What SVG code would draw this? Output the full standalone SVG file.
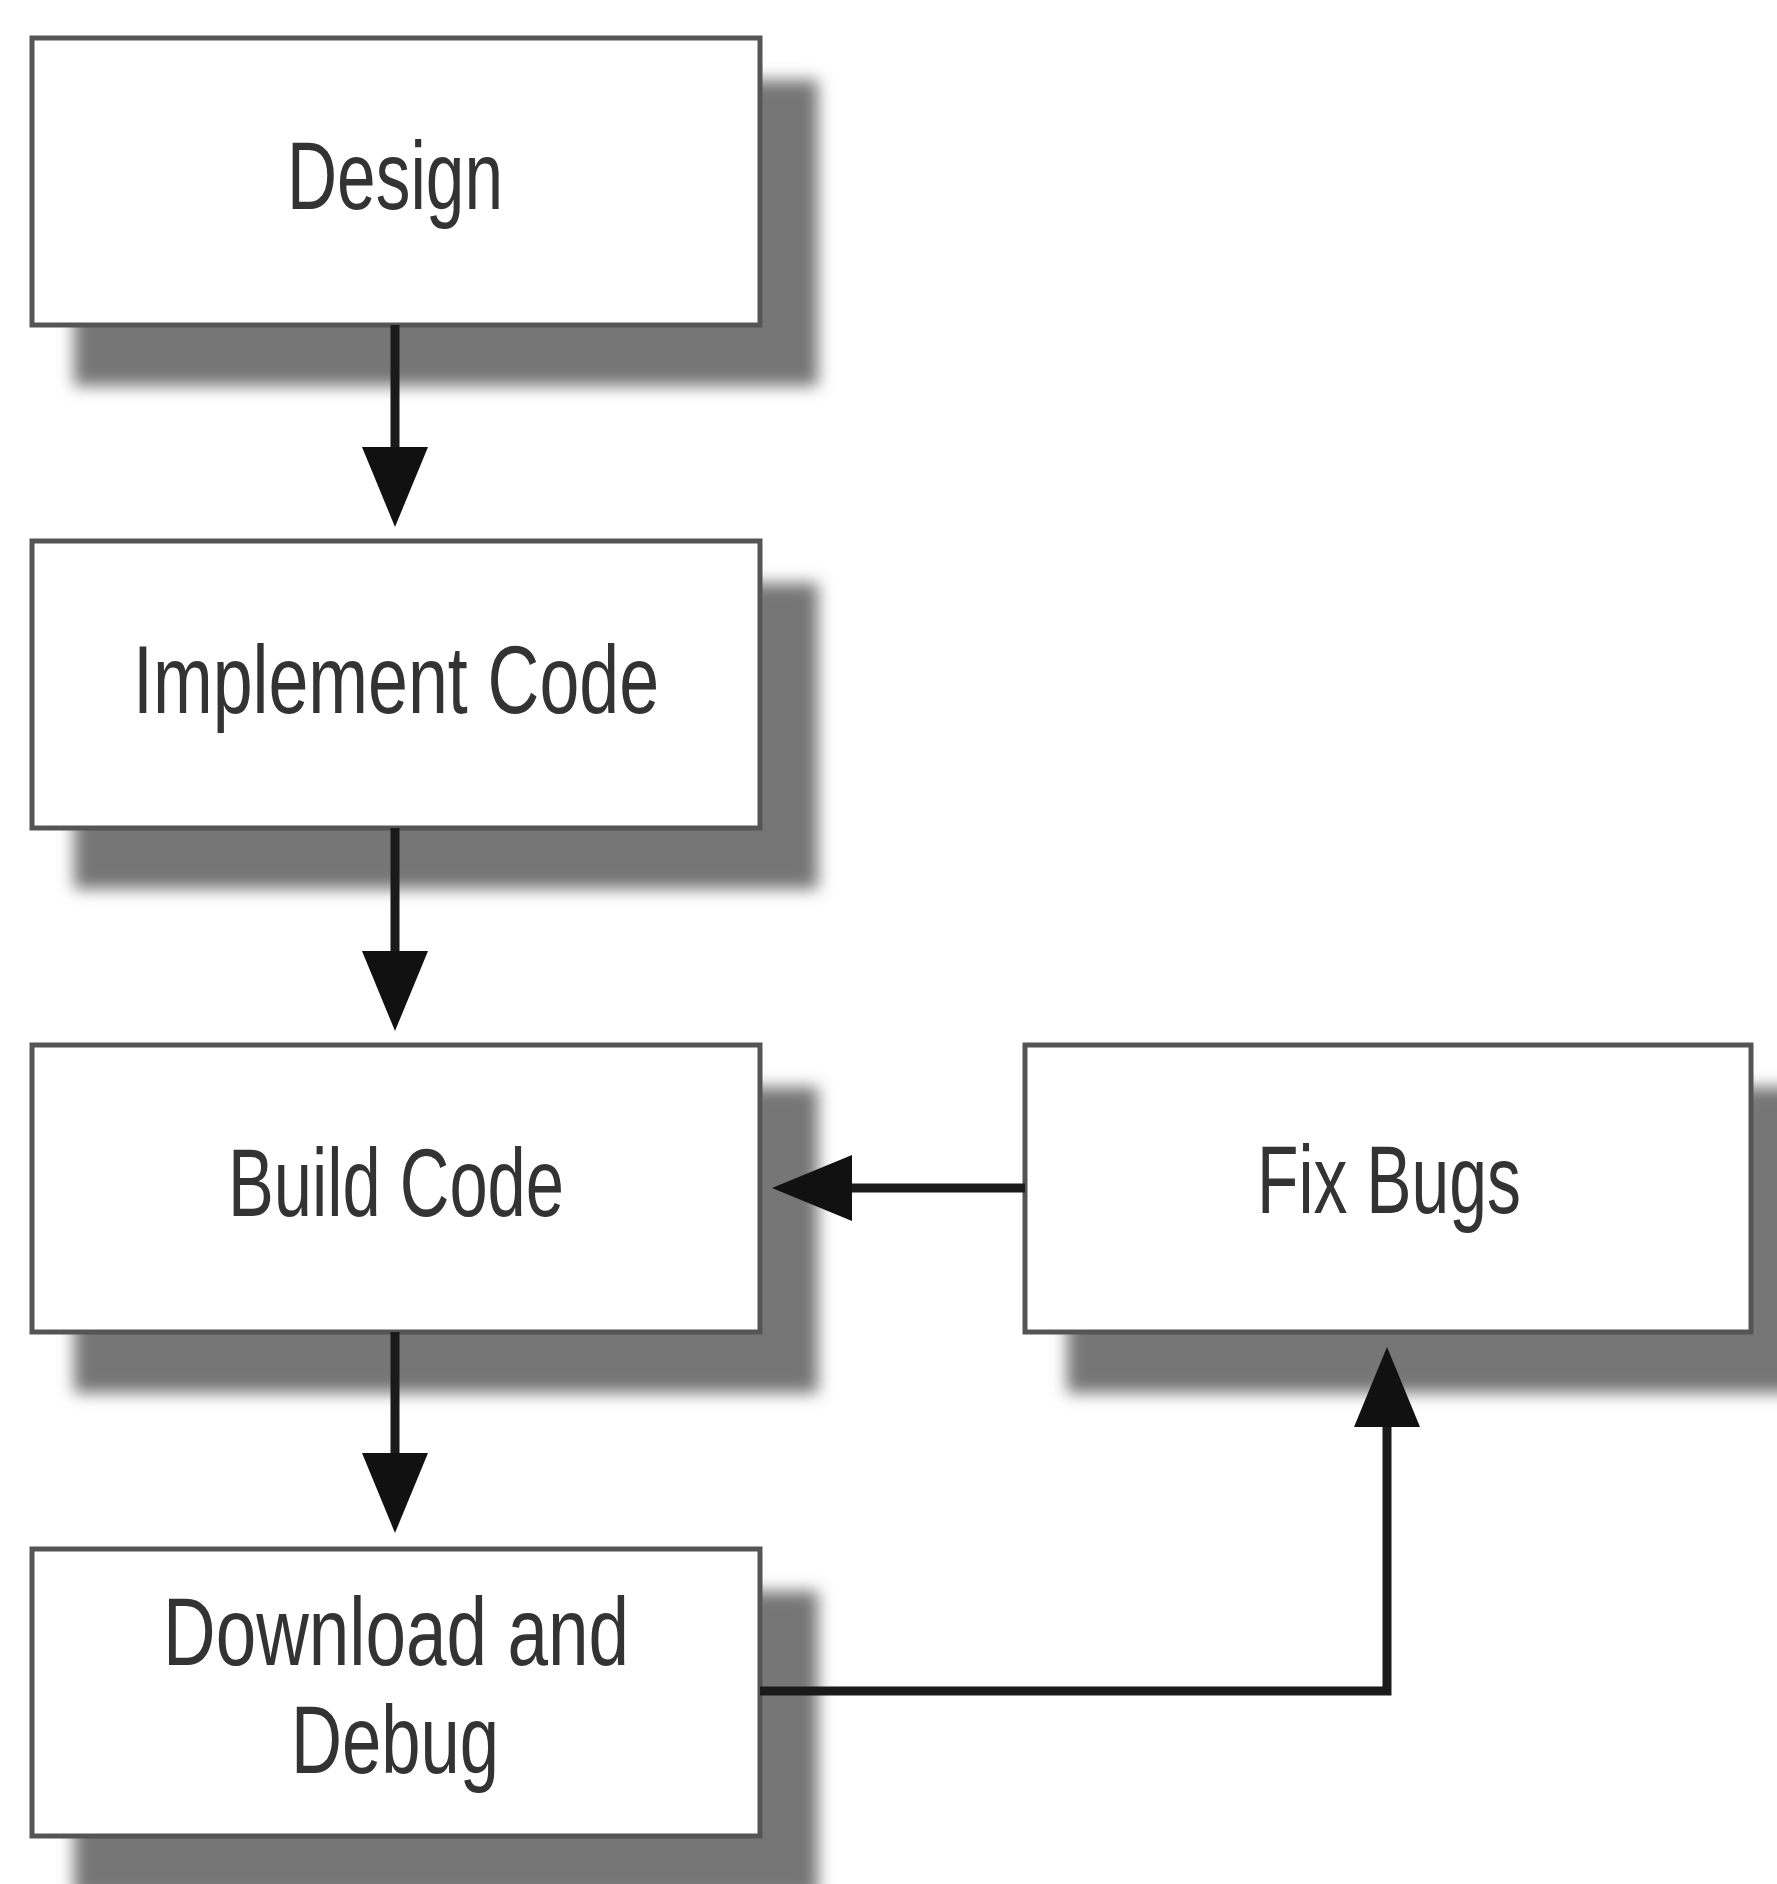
<svg xmlns="http://www.w3.org/2000/svg" width="1777" height="1884" viewBox="0 0 1777 1884">
<style>
.shadow{fill:#767676;filter:url(#blur)}
.box{fill:#ffffff;stroke:#555555;stroke-width:5}
.lbl{font-family:"Liberation Sans",Arial,sans-serif;font-size:96px;fill:#333333;text-anchor:middle}
.conn{fill:none;stroke:#1a1a1a;stroke-width:9}
</style>
<defs>
<filter id="blur" x="-10%" y="-10%" width="120%" height="120%">
<feGaussianBlur stdDeviation="8"/>
</filter>
<marker id="head" markerUnits="userSpaceOnUse" markerWidth="90" markerHeight="70" refX="40" refY="33" orient="auto">
<path d="M0,0 L80,33 L0,66 Z" fill="#111111"/>
</marker>
</defs>
<rect width="1777" height="1884" fill="#ffffff"/>
<g id="design">
<rect class="shadow" x="74" y="80" width="744" height="306"/>
<rect class="box" x="32" y="38" width="728" height="287"/>
<text class="lbl" x="395" y="209" textLength="216" lengthAdjust="spacingAndGlyphs">Design</text>
</g>
<g id="implement">
<rect class="shadow" x="74" y="583" width="744" height="306"/>
<rect class="box" x="32" y="541" width="728" height="287"/>
<text class="lbl" x="396" y="713" textLength="526" lengthAdjust="spacingAndGlyphs">Implement Code</text>
</g>
<g id="build">
<rect class="shadow" x="74" y="1087" width="744" height="306"/>
<rect class="box" x="32" y="1045" width="728" height="287"/>
<text class="lbl" x="396" y="1216" textLength="336" lengthAdjust="spacingAndGlyphs">Build Code</text>
</g>
<g id="download">
<rect class="shadow" x="74" y="1591" width="744" height="306"/>
<rect class="box" x="32" y="1549" width="728" height="287"/>
<text class="lbl" x="396" y="1665" textLength="466" lengthAdjust="spacingAndGlyphs">Download and</text>
<text class="lbl" x="395" y="1773" textLength="208" lengthAdjust="spacingAndGlyphs">Debug</text>
</g>
<g id="fixbugs">
<rect class="shadow" x="1067" y="1087" width="744" height="306"/>
<rect class="box" x="1025" y="1045" width="726" height="287"/>
<text class="lbl" x="1389" y="1213" textLength="264" lengthAdjust="spacingAndGlyphs">Fix Bugs</text>
</g>
<g id="connectors">
<path class="conn" d="M395,325 V487" marker-end="url(#head)"/>
<path class="conn" d="M395,828 V991" marker-end="url(#head)"/>
<path class="conn" d="M395,1332 V1493" marker-end="url(#head)"/>
<path class="conn" d="M1025,1188 H812" marker-end="url(#head)"/>
<path class="conn" d="M760,1691 H1387 V1387" marker-end="url(#head)"/>
</g>
</svg>
